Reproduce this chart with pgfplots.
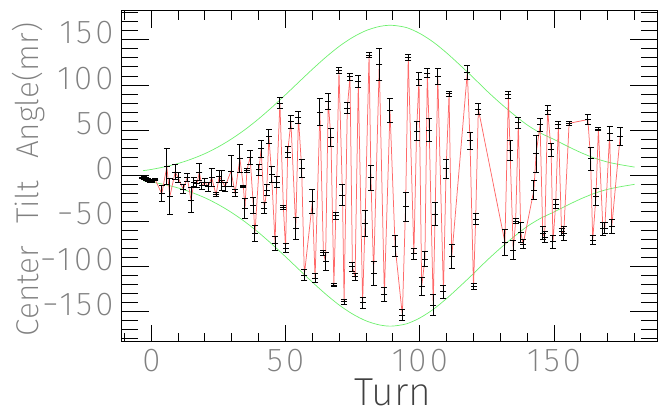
\documentclass[border=0pt]{standalone}
\usepackage{fontspec}
\setmainfont{Fira Sans}[UprightFont={* ExtraLight}]
\newfontfamily\tickfont{Fira Sans}[UprightFont={* ExtraLight}, LetterSpace=10]
\usepackage{pgfplots}
\usepackage{pgfplotstable}
\pgfplotsset{compat=1.18}
\definecolor{redline}{RGB}{255,105,105}
\definecolor{greenline}{RGB}{110,240,110}
\definecolor{labgray}{RGB}{128,128,128}

\pgfplotstableread{
x y e
-3.3 -1.5 1.2
-2.6 -2.5 1.2
-2.0 -3.5 1.5
-1.3 -4.5 1.5
-0.6 -5.5 1.5
0.2 -6.0 1.5
1.5 -4.5 1.2
3.9 -20 9
5.8 10 20
6.9 -23 20
8.9 4 8
10.0 -2 6
11.9 -15 5
13.4 -2 4
14.8 -27 14
15.9 -7 5
17.0 -9 4
17.9 4 9
18.8 -11 4
20.0 -7 4
21.2 -12 5
22.5 -2 10
24.1 -21 2
25.3 -1 7
26.2 -5 11
27.5 -12 5
29.7 5 17
31.2 -19 4
33.0 19 15
34.3 -12 1
34.9 -36 11
35.6 6 2
36.8 20 8
38.0 -33 9
38.6 -64 9
40.1 6.3 6
40.9 29.5 9
42.1 -36 6
43.0 -15.8 6
43.8 43.1 8
44.8 1.5 9
46.1 -74.7 8
46.7 -7.3 6
47.9 79.9 6
49.2 -35.3 2
50.0 -80.2 5
50.8 25.8 6
52.0 59.6 7
53.8 -58.1 12
54.8 64.4 7
56.0 8.1 10
57.0 -109.6 6
60.0 -28.7 13
61.0 -113 5
62.8 70 15
64.1 -85 3
64.9 -94.9 10
65.9 81.7 9
66.9 42 10
68.0 -120.7 2
68.7 -44.1 4
69.9 115.9 3
71.2 -21.3 12
71.8 -139.1 3
73.0 74.3 6
74.0 109.3 4
74.9 -100.4 5
75.9 -111.5 4
77.1 103.8 7
78.7 -140.2 6
79.6 -52.6 14
81.1 133.2 3
81.8 -2.2 14
82.8 -107.8 13
84.9 122.9 18
86.8 -131 8
88.9 71.8 13
90.8 -77.6 12
93.5 -153.8 6
94.7 -34.2 16
95.7 130.6 3
97.8 -86.4 6
98.8 49.3 10
99.7 106.7 7
100.7 -122.5 10
101.9 -92 8
102.8 113 5
103.5 50.4 13
105.0 -142.7 12
105.7 -42.3 13
106.7 109.3 9
108.8 -128 7
109.8 7.4 11
110.9 90.2 3
111.9 -89.4 13
117.7 114.1 8
118.7 38.3 9
120.0 -122.5 3
120.8 -48.2 6
121.8 73.6 6
131.7 -73.6 14
133.0 89.1 4
133.6 28.3 11
134.8 -82 11
135.7 -50 3
136.7 58.5 6
137.6 -62.5 11
138.5 -75.4 5
142.5 -15.8 11
143.3 24 20
144.8 56 7
145.8 -63.6 7
146.5 -68 6
147.6 72.5 5
148.9 28.4 7
149.6 -72.8 7
150.6 -31.6 5
151.6 56 4
152.8 -61.8 4
153.6 -64 8
155.6 57.8 2
162.6 62 6
163.6 18.5 13
164.4 -71 5
165.6 -23.5 9
166.5 51.5 1.5
168.2 -58.5 7
168.9 -58 6
170.7 46.5 8
171.5 -56 8
174.6 43 10
}\data

\pgfplotstableread{
x yu yl
-3 5.6 -5.6
0 6.9 -6.9
5 9.8 -9.8
10 13.5 -13.5
15 18.4 -18.4
20 24.4 -24.4
25 31.9 -31.9
30 40.8 -40.8
35 51.1 -51.1
40 62.8 -62.8
45 75.7 -75.7
50 89.4 -89.4
55 103.5 -103.5
60 117.5 -117.5
65 130.8 -130.8
70 142.8 -142.8
75 152.7 -152.7
80 160.2 -160.2
85 164.7 -164.7
89.5 166 -166
95 163.5 -163.5
100 157 -157
105 147.5 -147.5
110 135.5 -135.5
115 122 -122
120 108 -108
125 93.5 -93.5
130 80 -80
135 67.5 -67.5
140 56 -56
145 47 -47
150 40 -40
155 32.5 -32.5
160 25.5 -25.5
165 19.5 -19.5
170 15 -15
175 12 -12
180 9.5 -9.5
}\env

\begin{document}
\begin{tikzpicture}
\pgfplotsset{
  common/.style={
    scale only axis, width=535.6pt, height=331pt,
    xmin=-11.02, xmax=188.45, ymin=-183.2, ymax=182.1,
    axis line style={line width=1pt, black},
    tick style={black, line width=1pt},
    tick align=inside,
  }
}
% axis with x ticks
\begin{axis}[common,
  xtick={0,50,100,150},
  xticklabels={0,50,100,150},
  minor xtick={-10,10,20,30,40,60,70,80,90,110,120,130,140,160,170,180},
  ytick=\empty,
  major tick length=17pt, minor tick length=9pt,
  xticklabel style={font=\tickfont\fontsize{33}{33}\selectfont, text=labgray, inner sep=0pt, anchor=north, yshift=-7pt},
  xlabel={Turn},
  xlabel style={font=\fontsize{39}{39}\selectfont, text=black!75, at={(axis description cs:0.5066,-0.152)}, anchor=center, inner sep=0pt},
]
\end{axis}
% axis with y ticks and data
\begin{axis}[common, name=ax,
  xtick=\empty,
  ytick={-150,-100,-50,0,50,100,150},
  yticklabels={−150,−100,−50,0,50,100,150},
  minor ytick={-180,-170,-160,-140,-130,-120,-110,-90,-80,-70,-60,-40,-30,-20,-10,10,20,30,40,60,70,80,90,110,120,130,140,160,170,180},
  major tick length=27pt, minor tick length=16pt,
  yticklabel style={font=\tickfont\fontsize{33}{33}\selectfont, text=labgray, inner sep=0pt, anchor=east, xshift=-8pt, yshift=7pt},
  ylabel={Center\hspace{0.7em}Tilt\hspace{0.7em}Angle(mr)},
  ylabel style={font=\fontsize{31.5}{31.5}\selectfont, text=labgray, at={(axis description cs:-0.174,0.49)}, anchor=center, inner sep=0pt},
]
\addplot[greenline, line width=0.7pt, smooth] table[x=x, y=yu]{\env};
\addplot[greenline, line width=0.7pt, smooth] table[x=x, y=yl]{\env};
\addplot[redline, line width=0.75pt, mark=-, mark size=3pt,
  mark options={black, line width=1pt, solid},
  error bars/.cd, y dir=both, y explicit, error mark=|,
  error bar style={black, line width=1pt},
  error mark options={black, mark size=3pt, line width=1pt}]
  table[x=x, y=y, y error=e]{\data};
\end{axis}
\pgfresetboundingbox
\path[use as bounding box] ([xshift=-121.7pt,yshift=-72.3pt]ax.south west) rectangle ([xshift=6.7pt,yshift=10.7pt]ax.north east);
\end{tikzpicture}
\end{document}
